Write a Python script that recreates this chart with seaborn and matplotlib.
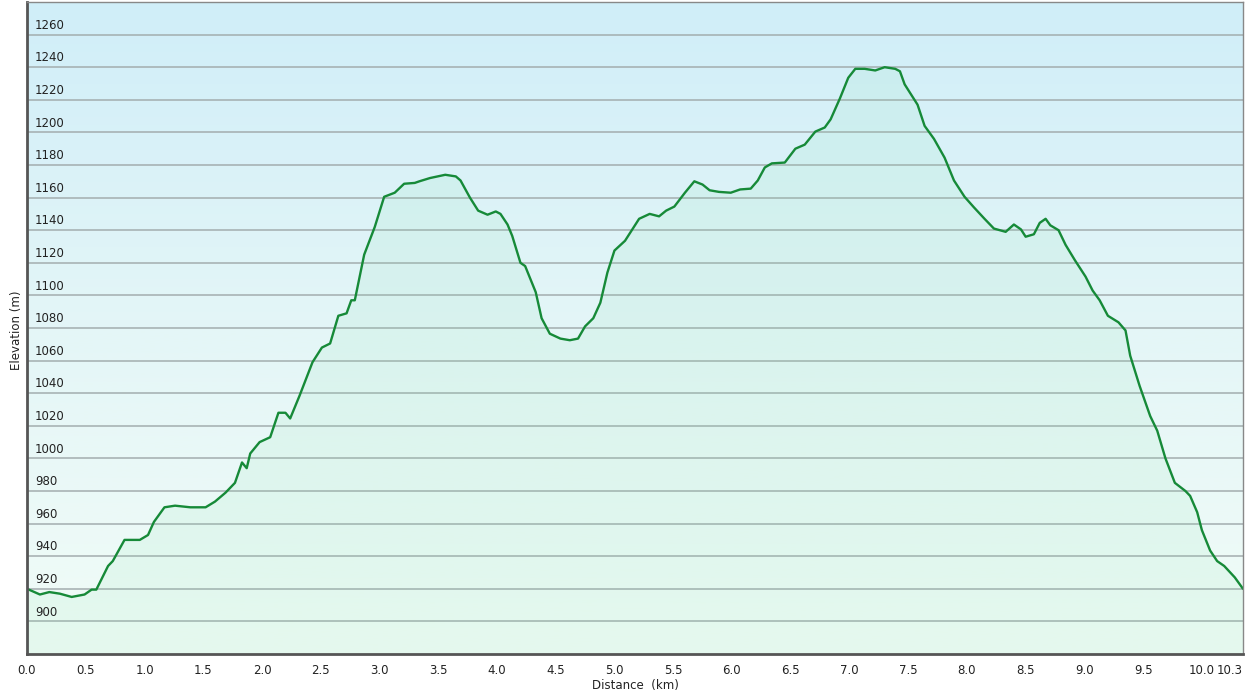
import numpy as np
import pandas as pd
import matplotlib
matplotlib.use("Agg")
import matplotlib.pyplot as plt
import matplotlib.transforms as mtransforms
from matplotlib.colors import LinearSegmentedColormap
import seaborn as sns

# ---- data ----
distance_km = [0.00, 0.11, 0.19, 0.28, 0.38, 0.49, 0.55, 0.59, 0.69, 0.73, 0.83, 0.96,
               1.03, 1.08, 1.17, 1.26, 1.39, 1.52, 1.60, 1.69, 1.77, 1.83, 1.87, 1.90,
               1.98, 2.07, 2.14, 2.20, 2.24, 2.32, 2.43, 2.51, 2.58, 2.65, 2.72, 2.76,
               2.79, 2.87, 2.96, 3.04, 3.13, 3.21, 3.30, 3.34, 3.43, 3.56, 3.65, 3.69,
               3.77, 3.84, 3.92, 3.99, 4.03, 4.09, 4.13, 4.20, 4.24, 4.33, 4.38, 4.45,
               4.54, 4.62, 4.69, 4.75, 4.82, 4.88, 4.94, 5.00, 5.09, 5.21, 5.30, 5.38,
               5.44, 5.51, 5.60, 5.68, 5.75, 5.81, 5.89, 5.99, 6.07, 6.16, 6.22, 6.28,
               6.34, 6.45, 6.54, 6.62, 6.71, 6.79, 6.84, 6.92, 6.99, 7.05, 7.13, 7.22,
               7.30, 7.39, 7.43, 7.47, 7.58, 7.64, 7.72, 7.81, 7.89, 7.98, 8.06, 8.15,
               8.23, 8.33, 8.40, 8.46, 8.50, 8.57, 8.62, 8.67, 8.71, 8.78, 8.84, 8.92,
               9.01, 9.07, 9.13, 9.20, 9.29, 9.35, 9.39, 9.47, 9.56, 9.62, 9.69, 9.77,
               9.86, 9.90, 9.96, 10.00, 10.07, 10.13, 10.19, 10.28, 10.35]
elevation_m = [920, 916.5, 918, 917, 915, 916.5, 919.5, 919.5, 934, 937, 950, 950,
               953, 961, 970, 971, 970, 970, 973.5, 979, 985, 997.5, 994, 1003,
               1010, 1013, 1028, 1028, 1024.5, 1038.5, 1059, 1068, 1070.5, 1087.5, 1089, 1097,
               1097, 1125, 1142, 1160.5, 1163, 1168.5, 1169, 1170, 1172, 1174, 1173, 1170.5,
               1160, 1152, 1149.5, 1151.5, 1150, 1143.5, 1136.5, 1120, 1118, 1102, 1086, 1076.5,
               1073.5, 1072.5, 1073.5, 1081, 1086, 1095.5, 1114, 1127.5, 1133.5, 1147, 1150, 1148.5,
               1152, 1154.5, 1163, 1170, 1168, 1164.5, 1163.5, 1163, 1165, 1165.5, 1170.5, 1178.5,
               1181, 1181.5, 1190, 1192.5, 1200.5, 1203, 1208, 1221, 1233.5, 1239, 1239, 1238,
               1240, 1239, 1237.5, 1229.5, 1217, 1204, 1196, 1184.5, 1170.5, 1160.5, 1154, 1147,
               1141, 1139, 1143.5, 1140.5, 1136, 1137.5, 1144.5, 1147, 1143, 1140, 1131, 1121.5,
               1111.5, 1103, 1097, 1087.5, 1083.5, 1078.5, 1063, 1044.5, 1026, 1017, 1000, 985,
               980, 977, 967, 956, 943.5, 937, 934, 927, 920]

x_ticks = [0.0, 0.5, 1.0, 1.5, 2.0, 2.5, 3.0, 3.5, 4.0, 4.5, 5.0, 5.5, 6.0, 6.5,
           7.0, 7.5, 8.0, 8.5, 9.0, 9.5, 10.0, 10.35]
x_tick_labels = ["0.0", "0.5", "1.0", "1.5", "2.0", "2.5", "3.0", "3.5", "4.0", "4.5",
                 "5.0", "5.5", "6.0", "6.5", "7.0", "7.5", "8.0", "8.5", "9.0", "9.5",
                 "10.0", "10.3"]
y_ticks = list(range(900, 1261, 20))

df = pd.DataFrame({"Distance": distance_km, "Elevation": elevation_m})

sns.set_theme(style="white")
plt.rcParams["font.family"] = ["DejaVu Sans"]

fig = plt.figure(figsize=(12.45, 7.0), dpi=100)
ax = fig.add_axes([27 / 1245, 46 / 700, 1216 / 1245, 652 / 700])

x0, x1 = 0, 10.35
y0, y1 = 880, 1280
ax.set_xlim(x0, x1)
ax.set_ylim(y0, y1)

# background gradient (light blue at top -> very light mint at bottom)
bg = LinearSegmentedColormap.from_list("bg", ["#f1fcf7", "#e4f6f7", "#d0eef9"])
grad = np.linspace(0, 1, 256).reshape(-1, 1)
ax.imshow(grad, cmap=bg, origin="lower", aspect="auto",
          extent=[x0, x1, y0, y1], zorder=0)

# gridlines
for yv in y_ticks:
    ax.axhline(yv, color="#a3adae", lw=1.1, zorder=1)

# area fill under the profile
ax.fill_between(df["Distance"], df["Elevation"], y0, color="#7ee0a6",
                alpha=0.10, lw=0, zorder=2)

sns.lineplot(data=df, x="Distance", y="Elevation", ax=ax, color="#168a38",
             lw=1.7, zorder=3, sort=False)

# ticks
ax.set_xticks(x_ticks)
ax.set_xticklabels(x_tick_labels, fontsize=8.5, color="#222222")
ax.get_xticklabels()[-1].set_horizontalalignment("right")
ax.tick_params(axis="x", direction="out", length=5, width=1.2, color="#555555", pad=2)
ax.set_yticks(y_ticks)
ax.tick_params(axis="y", length=0, labelleft=False)

trans = mtransforms.blended_transform_factory(ax.transAxes, ax.transData)
offset = mtransforms.ScaledTranslation(0, 2 / 72, fig.dpi_scale_trans)
for yv in y_ticks:
    ax.text(0.0065, yv, str(yv), transform=trans + offset, ha="left", va="bottom",
            fontsize=8.5, color="#222222", zorder=4)

ax.set_xlabel("Distance  (km)", fontsize=8.5, color="#222222", labelpad=2)
ax.set_ylabel("")
fig.text(17 / 1245, 1 - 330 / 700, "Elevation (m)", rotation=90, ha="center",
         va="center", fontsize=8.5, color="#222222")

for side in ["left", "bottom"]:
    ax.spines[side].set_color("#555555")
    ax.spines[side].set_linewidth(2.0)
for side in ["top", "right"]:
    ax.spines[side].set_color("#888888")
    ax.spines[side].set_linewidth(1.0)
for s in ax.spines.values():
    s.set_visible(True)
    s.set_zorder(5)

fig.savefig("out.png", dpi=100, facecolor="white")
